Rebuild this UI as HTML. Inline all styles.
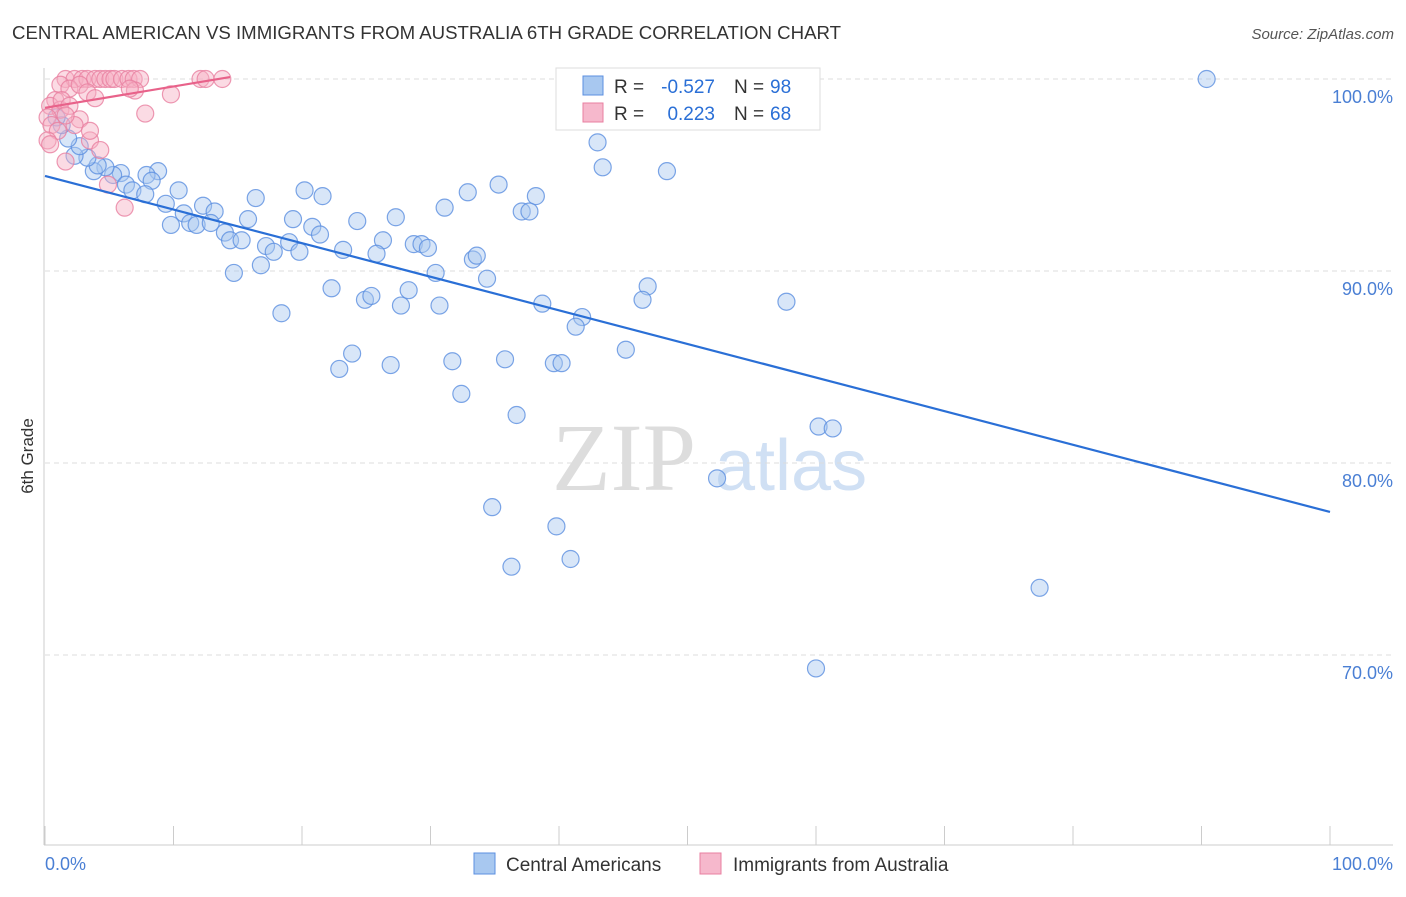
<!DOCTYPE html>
<html><head><meta charset="utf-8"><style>
body{margin:0;background:#fff;font-family:"Liberation Sans",sans-serif}
</style></head><body>
<svg id="c" width="1406" height="892" xmlns="http://www.w3.org/2000/svg">
<text x="12" y="39" font-size="18" fill="#333" textLength="829" lengthAdjust="spacingAndGlyphs">CENTRAL AMERICAN VS IMMIGRANTS FROM AUSTRALIA 6TH GRADE CORRELATION CHART</text>
<text x="1394" y="39" font-size="15" fill="#555" font-style="italic" text-anchor="end">Source: ZipAtlas.com</text>
<text x="33" y="456" font-size="17" fill="#333" transform="rotate(-90 33 456)" text-anchor="middle">6th Grade</text>
<g><text x="552" y="490" font-size="96" fill="#ddd" font-family="Liberation Serif,serif">ZIP</text><text x="715" y="490" font-size="72" fill="#d0e0f4">atlas</text></g>
<g id="grid"></g><g id="pts"></g><g id="lines"></g>
<g>
<rect x="556" y="68" width="264" height="62" fill="#fff" stroke="#ddd"/>
<rect x="583" y="76" width="20" height="19" fill="#a8c8f0" stroke="#5b8fe0"/>
<rect x="583" y="103" width="20" height="19" fill="#f6b8cc" stroke="#e87fa0"/>
<text x="614" y="93" font-size="19" fill="#333">R =</text>
<text x="715" y="93" font-size="19" fill="#2a6fd6" text-anchor="end">-0.527</text>
<text x="734" y="93" font-size="19" fill="#333">N =</text>
<text x="770" y="93" font-size="19" fill="#2a6fd6">98</text>
<text x="614" y="120" font-size="19" fill="#333">R =</text>
<text x="715" y="120" font-size="19" fill="#2a6fd6" text-anchor="end">0.223</text>
<text x="734" y="120" font-size="19" fill="#333">N =</text>
<text x="770" y="120" font-size="19" fill="#2a6fd6">68</text>
</g>
<g>
<rect x="474" y="853" width="21" height="21" fill="#a8c8f0" stroke="#5b8fe0"/>
<text x="506" y="871" font-size="19" fill="#333">Central Americans</text>
<rect x="700" y="853" width="21" height="21" fill="#f6b8cc" stroke="#e87fa0"/>
<text x="733" y="871" font-size="19" fill="#333">Immigrants from Australia</text>
</g>
<text x="45" y="870" font-size="18" fill="#4a7fd4">0.0%</text>
<text x="1393" y="870" font-size="18" fill="#4a7fd4" text-anchor="end">100.0%</text>
</svg>
<script>
const blueX=[90.4,43.0,43.4,48.4,35.3,32.9,38.2,31.1,37.1,37.7,20.2,21.6,16.4,10.4,8.8,7.9,8.3,5.9,5.3,4.7,3.8,4.1,3.3,2.3,2.7,1.8,1.3,0.9,6.3,6.8,7.8,9.4,10.8,9.8,11.3,12.3,11.8,13.2,12.9,14.0,14.4,15.3,15.8,19.3,20.8,21.4,17.2,17.8,19.0,19.8,23.2,24.3,26.3,25.8,27.3,28.7,29.3,29.8,30.4,33.3,33.6,34.4,14.7,16.8,22.3,24.9,25.4,27.7,28.3,30.7,18.4,38.7,41.8,41.3,46.9,46.5,57.7,45.2,23.9,22.9,26.9,31.7,35.8,39.6,40.2,32.4,36.7,60.2,61.3,52.3,34.8,39.8,36.3,40.9,77.4,60.0];
const blueY=[100,96.7,95.4,95.2,94.5,94.1,93.9,93.3,93.1,93.1,94.2,93.9,93.8,94.2,95.2,95.0,94.7,95.1,95.0,95.4,95.2,95.5,95.9,96.0,96.5,96.9,97.6,98.0,94.5,94.2,94.0,93.5,93.0,92.4,92.5,93.4,92.4,93.1,92.5,92.0,91.6,91.6,92.7,92.7,92.3,91.9,91.3,91.0,91.5,91.0,91.1,92.6,91.6,90.9,92.8,91.4,91.4,91.2,89.9,90.6,90.8,89.6,89.9,90.3,89.1,88.5,88.7,88.2,89.0,88.2,87.8,88.3,87.6,87.1,89.2,88.5,88.4,85.9,85.7,84.9,85.1,85.3,85.4,85.2,85.2,83.6,82.5,81.9,81.8,79.2,77.7,76.7,74.6,75.0,73.5,69.3];
const pinkX=[1.6,2.3,2.9,3.3,3.9,4.3,4.7,5.1,5.4,6.0,6.5,6.9,7.4,12.1,12.5,13.8,1.2,1.9,2.7,3.3,3.9,7.0,9.8,6.6,0.8,0.4,1.2,0.2,0.5,1.0,0.2,0.4,7.8,2.7,2.3,3.5,4.3,1.6,4.9,6.2,1.3,1.9,1.6,3.5];
const pinkY=[100,100,100,100,100,100,100,100,100,100,100,100,100,100,100,100,99.7,99.5,99.7,99.3,99.0,99.4,99.2,99.5,98.9,98.6,98.4,98.0,97.6,97.3,96.8,96.6,98.2,97.9,97.6,96.8,96.3,95.7,94.5,93.3,98.9,98.6,98.1,97.3];
const blueLine=[[0,94.95],[100,77.45]];
const pinkLine=[[0,98.5],[14.4,100.1]];
const yTicks=[100,90,80,70];
const xTicks=[0,10,20,30,40,50,60,70,80,90,100];
const NS="http://www.w3.org/2000/svg";
const sx=v=>45+v*12.85, sy=v=>79+(100-v)*19.2;
function mk(t,a,p){const e=document.createElementNS(NS,t);for(const k in a)e.setAttribute(k,a[k]);p.appendChild(e);return e;}
const g=document.getElementById('grid');
yTicks.forEach(t=>{
 const l=mk('line',{x1:45,x2:1393,y1:sy(t),y2:sy(t),stroke:'#ddd','stroke-dasharray':'5,4'},g);
 
 
 const tx=mk('text',{x:1393,y:sy(t)+24,'font-size':18,fill:'#4a7fd4','text-anchor':'end'},g);
 tx.textContent=t.toFixed(1)+'%';
 
 
});
const ax=mk('line',{x1:44,x2:44,y1:68,y2:845,stroke:'#ccc'},g);


const bx=mk('line',{x1:44,x2:1393,y1:845,y2:845,stroke:'#ccc'},g);


xTicks.forEach(t=>{
 const l=mk('line',{x1:sx(t),x2:sx(t),y1:826,y2:845,stroke:'#ccc'},g);
 
 
});
const p=document.getElementById('pts');
function dots(X,Y,f,s,n){X.forEach((x,i)=>{
 const c=mk('circle',{cx:sx(x),cy:sy(Y[i]),r:8.5,fill:f,'fill-opacity':0.45,stroke:s,'stroke-width':1.2,'stroke-opacity':0.8},p);
 
 
});}
dots(blueX,blueY,'#a8c8f0','#5b8fe0','central-american-point');
dots(pinkX,pinkY,'#f6b0c4','#e87fa0','australia-immigrant-point');
const L=document.getElementById('lines');
const b=mk('line',{x1:sx(blueLine[0][0]),y1:sy(blueLine[0][1]),x2:sx(blueLine[1][0]),y2:sy(blueLine[1][1]),stroke:'#2a6fd6','stroke-width':2.2},L);


const pl=mk('line',{x1:sx(pinkLine[0][0]),y1:sy(pinkLine[0][1]),x2:sx(pinkLine[1][0]),y2:sy(pinkLine[1][1]),stroke:'#e8628a','stroke-width':2.2},L);


</script>
</body></html>
